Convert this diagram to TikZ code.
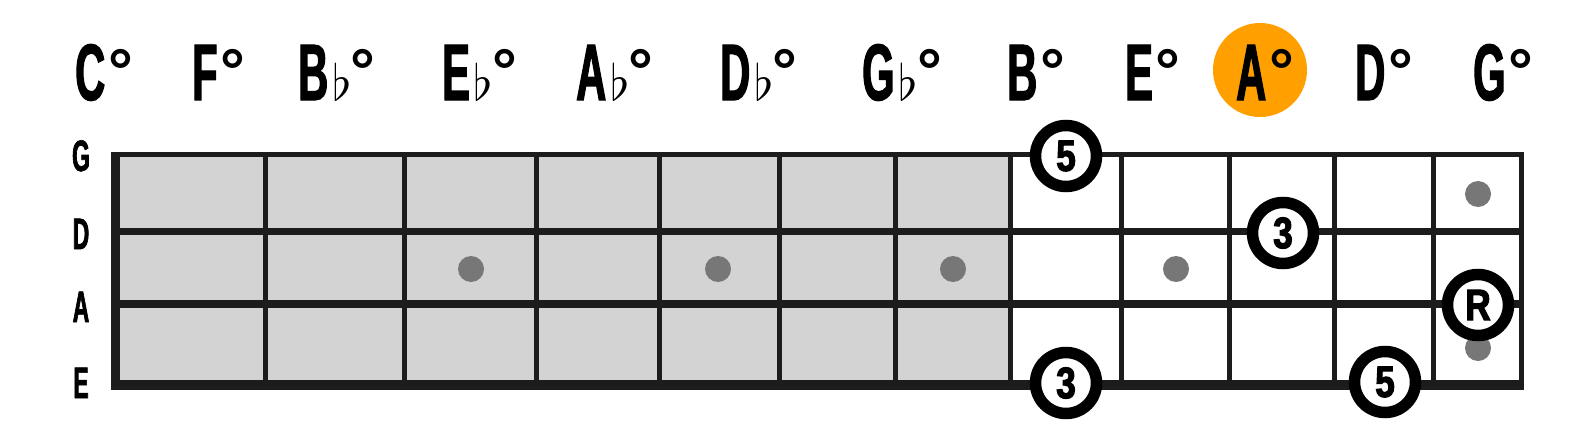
\documentclass[tikz,border=0pt]{standalone}
\usepackage{fontspec}
\setmainfont{Liberation Sans}
\newfontfamily\condf[FakeStretch=0.52,FakeBold=1.5]{Liberation Sans}
\newfontfamily\numf[FakeStretch=0.8,FakeBold=2.5]{Liberation Sans}
\newfontfamily\degf{Liberation Sans}
\definecolor{cellgray}{HTML}{D3D3D3}
\definecolor{dotgray}{HTML}{777777}
\definecolor{linecol}{HTML}{1C1C1C}
\definecolor{hilite}{HTML}{FFA000}
\newcommand\dg{\kern3pt\raisebox{8pt}{\degf\bfseries\fontsize{62}{62}\selectfont °}}
\newcommand\fl{\kern4pt\scalebox{5}{\fontsize{10}{12}\selectfont$\flat$}\kern-4pt}
\tikzset{
  toplab/.style={inner sep=0pt, anchor=base west, font=\condf\bfseries\fontsize{80}{80}\selectfont},
  strlab/.style={inner sep=0pt, anchor=base, font=\condf\bfseries\fontsize{44}{44}\selectfont},
  fret/.style={draw=linecol, line width=5pt},
  dotmark/.style={circle, fill=dotgray, inner sep=0pt, minimum size=26pt},
  tone/.style={circle, draw=black, fill=white, line width=11.5pt, inner sep=0pt, minimum size=61pt,
     font=\numf\bfseries\fontsize{44}{44}\selectfont},
}
\begin{document}
\begin{tikzpicture}[x=1pt,y=-1pt]
\useasboundingbox (0,0) rectangle (1595,428);
% highlighted note
\node[circle, fill=hilite, minimum size=94pt, inner sep=0pt] (hl) at (1260,70) {};
% shaded region
\fill[cellgray] (115,154) rectangle (1010,385);
% position dots
\node[dotmark] (d1) at (471,269) {};
\node[dotmark] (d2) at (718,269) {};
\node[dotmark] (d3) at (953,269) {};
\node[dotmark] (d4) at (1176,269) {};
\node[dotmark] (d5) at (1478,194) {};
\node[dotmark] (d6) at (1478,348) {};
% frets
\foreach \x in {265.5,404.5,536.5,659.5,779.5,895.5,1010.5,1121.5,1229.5,1334.5,1433.5}
  \draw[fret] (\x,154) -- (\x,385);
% strings
\draw[linecol, line width=5pt] (111,154.5) -- (1524,154.5);
\draw[linecol, line width=6.5pt] (111,231.5) -- (1524,231.5);
\draw[linecol, line width=8pt] (111,304) -- (1524,304);
\draw[linecol, line width=9.5pt] (111,385) -- (1524,385);
% borders
\draw[linecol, line width=9pt] (115.5,152) -- (115.5,389.75);
\draw[linecol, line width=5pt] (1521.5,152) -- (1521.5,389.75);
% chord tones
\node[tone] (t5a) at (1066,156) {5};
\node[tone] (t3a) at (1283,233) {3};
\node[tone] (tR) at (1478,305) {R};
\node[tone] (t3b) at (1066,383) {3};
\node[tone] (t5b) at (1385,382) {5};
% string names
\node[strlab] (sG) at (81,171) {G};
\node[strlab] (sD) at (81,249) {D};
\node[strlab] (sA) at (81,322) {A};
\node[strlab] (sE) at (81,398) {E};
% note names
\node[toplab] (nC) at (75,100) {C\dg};
\node[toplab] (nF) at (192,100) {F\dg};
\node[toplab] (nBb) at (298,100) {B\fl\dg};
\node[toplab] (nEb) at (442,100) {E\fl\dg};
\node[toplab] (nAb) at (576,100) {A\fl\dg};
\node[toplab] (nDb) at (720,100) {D\fl\dg};
\node[toplab] (nGb) at (862,100) {G\fl\dg};
\node[toplab] (nB) at (1007,100) {B\dg};
\node[toplab] (nE) at (1125,100) {E\dg};
\node[toplab] (nA) at (1236,100) {A\dg};
\node[toplab] (nD) at (1355,100) {D\dg};
\node[toplab] (nG) at (1473,100) {G\dg};
\end{tikzpicture}
\end{document}
